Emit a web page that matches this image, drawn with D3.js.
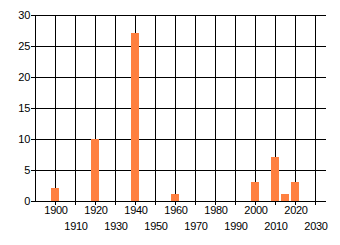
<!DOCTYPE html>
<html><head><meta charset="utf-8">
<script src="https://cdn.jsdelivr.net/npm/d3@7"></script>
<style>html,body{margin:0;padding:0;background:#fff;}svg{display:block;}text{font-family:"Liberation Sans",Arial,sans-serif;font-size:11px;fill:#000;letter-spacing:-0.3px;}</style>
</head><body>
<script>
const years = [1900, 1920, 1940, 1960, 2000, 2010, 2015, 2020];
const counts = [2, 10, 27, 1, 3, 7, 1, 3];
const xTicks = [1900,1910,1920,1930,1940,1950,1960,1970,1980,1990,2000,2010,2020,2030];
const yTicks = [0,5,10,15,20,25,30];

const W = 340, H = 245;
const svg = d3.select("body").append("svg").attr("width", W).attr("height", H);
const x = d3.scaleLinear().domain([1890, 2035.5]).range([35, 326]);
const y = d3.scaleLinear().domain([0, 30]).range([201, 15]);

const g = svg.append("g").attr("shape-rendering","crispEdges");
// horizontal gridlines + y ticks
g.selectAll("line.h").data(yTicks).join("line")
  .attr("x1", 31).attr("x2", 326)
  .attr("y1", d => Math.round(y(d)) + 0.5).attr("y2", d => Math.round(y(d)) + 0.5)
  .attr("stroke", "#000");
// vertical gridlines + x ticks
g.selectAll("line.v").data(xTicks).join("line")
  .attr("x1", d => Math.round(x(d)) + 0.5).attr("x2", d => Math.round(x(d)) + 0.5)
  .attr("y1", 15).attr("y2", 205)
  .attr("stroke", "#000");
// y axis line
g.append("line").attr("x1", 35.5).attr("x2", 35.5).attr("y1", 15).attr("y2", 202).attr("stroke", "#000");

// bars
g.selectAll("rect").data(years).join("rect")
  .attr("x", d => Math.round(x(d)) - 4)
  .attr("width", 8)
  .attr("y", (d, i) => Math.floor(y(counts[i])))
  .attr("height", (d, i) => Math.round(y(0)) - Math.floor(y(counts[i])))
  .attr("fill", "#ff8040");

// y labels
svg.selectAll("text.y").data(yTicks).join("text")
  .attr("x", 30).attr("y", d => y(d) + 4)
  .attr("text-anchor", "end").text(d => d);
// x labels, alternating rows
svg.selectAll("text.x").data(xTicks).join("text")
  .attr("x", d => x(d) + 1).attr("y", (d, i) => i % 2 === 0 ? 214 : 230)
  .attr("text-anchor", "middle").text(d => d);
</script>
</body></html>
